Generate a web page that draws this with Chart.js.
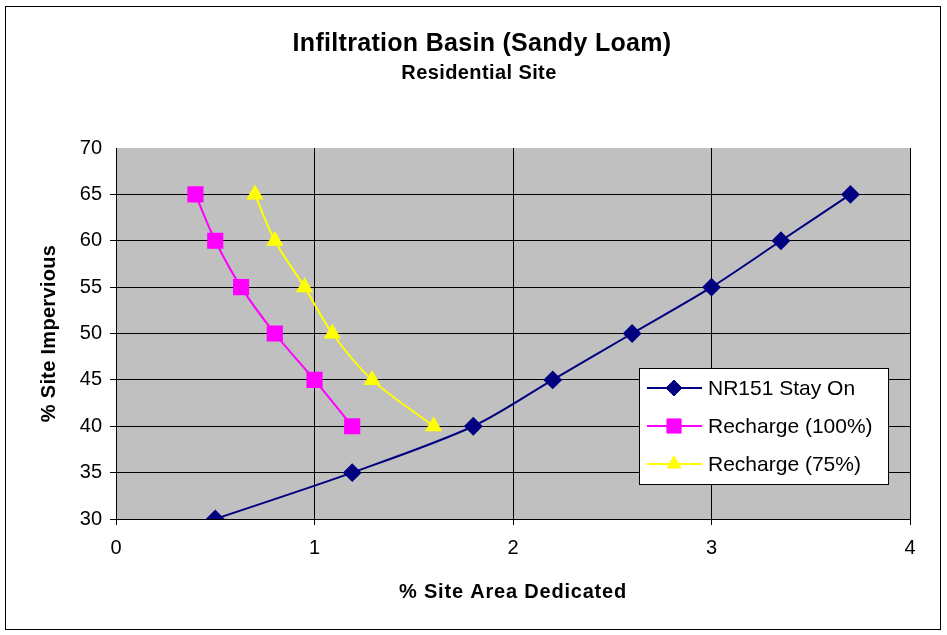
<!DOCTYPE html>
<html>
<head>
<meta charset="utf-8">
<script src="https://cdn.jsdelivr.net/npm/chart.js@4/dist/chart.umd.min.js"></script>
<style>
  body { margin: 0; background: #fff; }
  #wrap { width: 947px; height: 635px; }
</style>
</head>
<body>
<div id="wrap"><canvas id="chart" width="947" height="635"></canvas></div>
<script>
const seriesNames = ['NR151 Stay On', 'Recharge (100%)', 'Recharge (75%)'];
const stayOnX = [0.5, 1.19, 1.8, 2.2, 2.6, 3.0, 3.35, 3.7];
const stayOnY = [30, 35, 40, 45, 50, 55, 60, 65];
const recharge100X = [0.4, 0.5, 0.63, 0.8, 1.0, 1.19];
const recharge100Y = [65, 60, 55, 50, 45, 40];
const recharge75X = [0.7, 0.8, 0.95, 1.09, 1.29, 1.6];
const recharge75Y = [65, 60, 55, 50, 45, 40];

const FONT = '"Liberation Sans", Arial, sans-serif';

function pts(xs, ys) {
  return xs.map((x, i) => ({ x: x, y: ys[i] }));
}

// gray plot area, outer border, titles and the in-plot legend
const decor = {
  id: 'decor',
  beforeDraw(chart) {
    const c = chart.ctx, a = chart.chartArea;
    c.save();
    c.fillStyle = '#fff';
    c.fillRect(0, 0, chart.width, chart.height);
    c.fillStyle = '#c0c0c0';
    c.fillRect(a.left, a.top, a.right - a.left, a.bottom - a.top);
    c.strokeStyle = '#000';
    c.lineWidth = 1;
    c.strokeRect(5.5, 6.5, 935, 623);
    c.fillStyle = '#000';
    c.textAlign = 'center';
    c.textBaseline = 'middle';
    c.font = 'bold 25px ' + FONT;
    c.letterSpacing = '0.3px';
    c.fillText('Infiltration Basin (Sandy Loam)', 482, 44);
    c.font = 'bold 20px ' + FONT;
    c.letterSpacing = '0.4px';
    c.fillText('Residential Site', 479, 73);
    // axis titles
    c.font = 'bold 20px ' + FONT;
    c.letterSpacing = '0.8px';
    c.fillText('% Site Area Dedicated', (a.left + a.right) / 2, 592);
    c.translate(49, (a.top + a.bottom) / 2);
    c.rotate(-Math.PI / 2);
    c.letterSpacing = '0.3px';
    c.fillText('% Site Impervious', 0, 0);
    c.restore();
  },
  afterDraw(chart) {
    const c = chart.ctx;
    c.save();
    c.fillStyle = '#fff';
    c.fillRect(639.5, 368.5, 249, 116);
    c.strokeStyle = '#000';
    c.lineWidth = 1;
    c.strokeRect(639.5, 368.5, 249, 116);
    chart.data.datasets.forEach((ds, i) => {
      const y = 388 + i * 38;
      c.strokeStyle = ds.borderColor;
      c.lineWidth = 2;
      c.beginPath();
      c.moveTo(647, y);
      c.lineTo(702, y);
      c.stroke();
      c.fillStyle = ds.pointBackgroundColor;
      c.strokeStyle = ds.pointBorderColor;
      c.lineWidth = 1;
      Chart.helpers.drawPoint(c, {
        pointStyle: ds.pointStyle,
        radius: ds.pointRadius,
        rotation: 0,
        borderWidth: 1
      }, 674, y);
      c.fillStyle = '#000';
      c.font = '21px ' + FONT;
      c.textAlign = 'left';
      c.textBaseline = 'middle';
      c.fillText(seriesNames[i], 708, y + 1);
    });
    c.restore();
  }
};

new Chart(document.getElementById('chart'), {
  type: 'scatter',
  data: {
    datasets: [
      {
        label: seriesNames[0],
        data: pts(stayOnX, stayOnY),
        showLine: true,
        borderColor: '#000080',
        borderWidth: 2,
        tension: 0.3,
        pointStyle: 'rectRot',
        pointRadius: 8,
        pointBackgroundColor: '#000080',
        pointBorderColor: '#000080'
      },
      {
        label: seriesNames[1],
        data: pts(recharge100X, recharge100Y),
        showLine: true,
        borderColor: '#ff00ff',
        borderWidth: 2,
        tension: 0.3,
        pointStyle: 'rect',
        pointRadius: 10,
        pointBackgroundColor: '#ff00ff',
        pointBorderColor: '#ff00ff'
      },
      {
        label: seriesNames[2],
        data: pts(recharge75X, recharge75Y),
        showLine: true,
        borderColor: '#ffff00',
        borderWidth: 2,
        tension: 0.3,
        pointStyle: 'triangle',
        pointRadius: 8,
        pointBackgroundColor: '#ffff00',
        pointBorderColor: '#ffff00'
      }
    ]
  },
  options: {
    responsive: false,
    animation: false,
    layout: { padding: { top: 148, right: 37, left: 0, bottom: 0 } },
    plugins: {
      legend: { display: false },
      tooltip: { enabled: false }
    },
    scales: {
      x: {
        type: 'linear',
        min: 0,
        max: 4,
        ticks: { stepSize: 1, color: '#000', font: { family: FONT, size: 20 }, padding: 11 },
        grid: { color: '#000', lineWidth: 1, tickLength: 6 },
        border: { color: '#000', width: 1 },
        afterFit(s) { s.height = 116; }
      },
      y: {
        type: 'linear',
        min: 30,
        max: 70,
        ticks: { stepSize: 5, color: '#000', font: { family: FONT, size: 20 }, padding: 8 },
        grid: { color: (ctx) => ctx.tick && ctx.tick.value === 70 ? 'rgba(0,0,0,0)' : '#000', lineWidth: 1, tickLength: 6 },
        border: { color: '#000', width: 1 },
        afterFit(s) { s.width = 116; }
      }
    }
  },
  plugins: [decor]
});
</script>
</body>
</html>
